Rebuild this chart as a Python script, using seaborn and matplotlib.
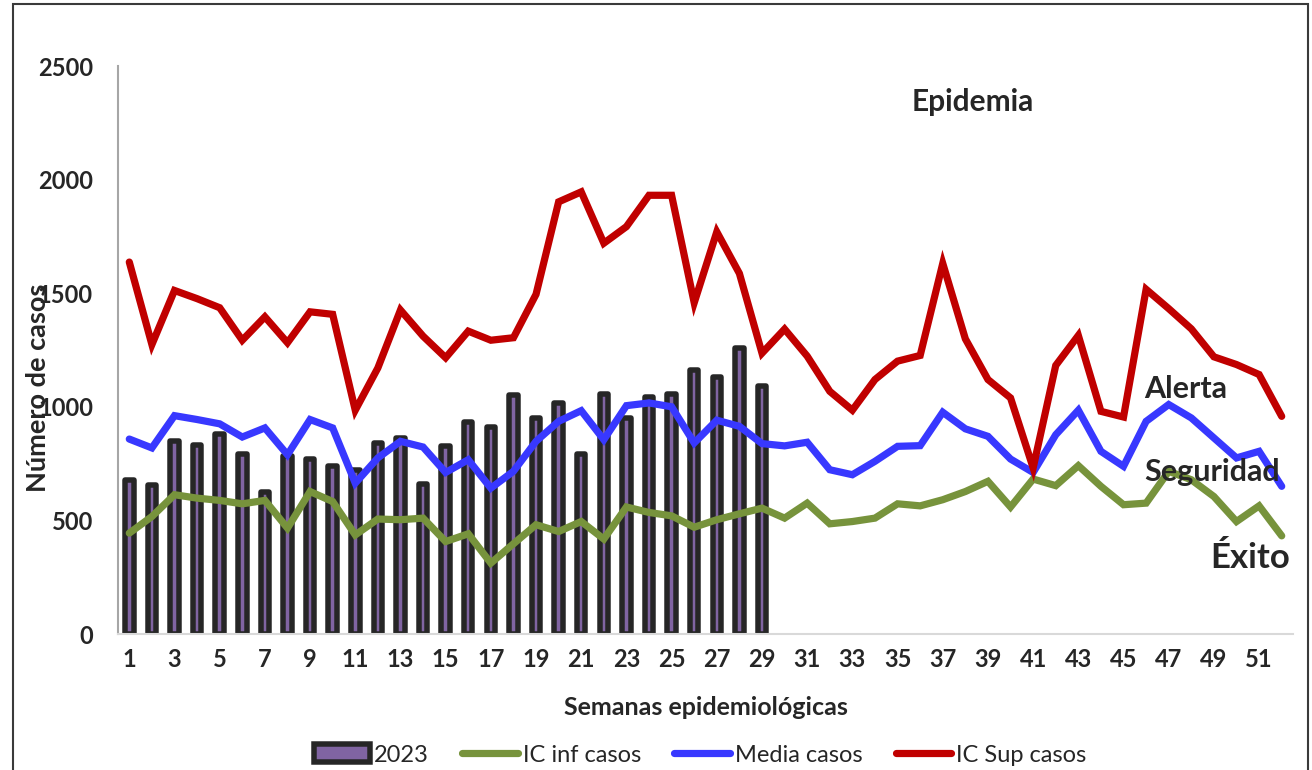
import seaborn as sns
import matplotlib.pyplot as plt
from matplotlib.patches import Rectangle
import pandas as pd

# Datos (semanas epidemiologicas)
semanas = list(range(1, 53))
casos_2023 = [676, 656, 851, 830, 880, 792, 623, 782, 772, 741,
              723, 841, 861, 660, 826, 932, 911, 1051, 949, 1017,
              794, 1058, 951, 1041, 1058, 1161, 1130, 1260, 1093]
ic_inf = [444, 517, 613, 598, 588, 573, 588, 466, 627, 583,
          436, 506, 503, 510, 407, 441, 312, 397, 481, 451,
          495, 418, 559, 535, 520, 470, 503, 529, 554, 510,
          576, 485, 495, 510, 573, 564, 591, 627, 672, 559,
          682, 653, 741, 650, 569, 576, 716, 679, 605, 495,
          564, 432]
media = [858, 819, 961, 944, 925, 867, 907, 789, 944, 907,
         664, 775, 848, 823, 711, 767, 642, 716, 848, 936,
         983, 855, 1005, 1017, 1000, 841, 941, 914, 838, 828,
         844, 723, 701, 760, 826, 829, 976, 903, 870, 770,
         711, 877, 985, 804, 738, 936, 1010, 951, 863, 775,
         804, 650]
ic_sup = [1637, 1274, 1512, 1476, 1436, 1293, 1396, 1282, 1418, 1407,
          985, 1171, 1426, 1311, 1216, 1333, 1293, 1304, 1495, 1902,
          1946, 1720, 1793, 1931, 1931, 1458, 1770, 1587, 1236, 1342,
          1223, 1068, 985, 1120, 1201, 1226, 1631, 1299, 1120, 1039,
          731, 1182, 1314, 980, 955, 1517, 1432, 1343, 1220, 1186,
          1142, 958]

df_barras = pd.DataFrame({'semana': semanas[:len(casos_2023)], 'casos': casos_2023})
df_lineas = pd.DataFrame({'semana': semanas, 'IC inf casos': ic_inf,
                          'Media casos': media, 'IC Sup casos': ic_sup})

sns.set_style('white')
plt.rcParams['font.family'] = ['Lato', 'DejaVu Sans']

fig = plt.figure(figsize=(13.12, 7.7), dpi=100)
ax = fig.add_axes([118/1312, 1-634/770, (1293-118)/1312, (634-66)/770])

sns.barplot(data=df_barras, x='semana', y='casos', native_scale=True, width=0.376,
            color='#8064A2', saturation=1, edgecolor='#262626', linewidth=3.96,
            label='2023', ax=ax)
for p in ax.patches:
    p.set_joinstyle('round')

colores = {'IC inf casos': '#77933C', 'Media casos': '#3838FF', 'IC Sup casos': '#C00000'}
for serie, col in colores.items():
    sns.lineplot(data=df_lineas, x='semana', y=serie, color=col, linewidth=5.2,
                 label=serie, ax=ax, solid_joinstyle='miter')

ax.set_xlim(0.5, 52.5)
ax.set_ylim(0, 2500)
ax.set_xticks(range(1, 53, 2))
ax.set_yticks(range(0, 2501, 500))
ax.tick_params(axis='both', length=0, labelsize=17)
ax.tick_params(axis='y', pad=18)
ax.tick_params(axis='x', pad=10)
for t in ax.get_xticklabels() + ax.get_yticklabels():
    t.set_fontweight('bold')

sns.despine(ax=ax)
ax.spines['left'].set_color('#a6a6a6')
ax.spines['left'].set_linewidth(1.5)
ax.spines['bottom'].set_color('#d9d9d9')
ax.spines['bottom'].set_linewidth(1.5)

ax.set_xlabel('Semanas epidemiológicas', fontsize=18, fontweight='bold', labelpad=18)
ax.set_ylabel('')
fig.text(38/1312, 1-388/770, 'Número de casos', rotation=90, fontsize=19.5,
         fontweight='bold', ha='center', va='center')

# Zonas del canal endemico
fig.text(973/1312, 1-102/770, 'Epidemia', fontsize=21.5, fontweight='bold', ha='center', va='center')
fig.text(1186/1312, 1-389/770, 'Alerta', fontsize=22, fontweight='bold', ha='center', va='center')
fig.text(1212/1312, 1-472/770, 'Seguridad', fontsize=22, fontweight='bold', ha='center', va='center')
fig.text(1250/1312, 1-558/770, 'Éxito', fontsize=25, fontweight='bold', ha='center', va='center')

handles, labels = ax.get_legend_handles_labels()
orden = [labels.index(n) for n in ['2023', 'IC inf casos', 'Media casos', 'IC Sup casos']]
ax.legend([handles[i] for i in orden], [labels[i] for i in orden],
          loc='center', bbox_to_anchor=((700-118)/(1293-118), (770-755-(770-634))/(634-66)),
          ncol=4, frameon=False, fontsize=17, handlelength=2.37, handleheight=0.8,
          handletextpad=0.2, columnspacing=1.4)

# marco de la figura
fig.patches.append(Rectangle((13/1312, -0.1), 1295/1312, 1.1-4/770,
                             transform=fig.transFigure, fill=False,
                             edgecolor='#3a3a3a', linewidth=1.5))

fig.savefig('out.png', dpi=100)
